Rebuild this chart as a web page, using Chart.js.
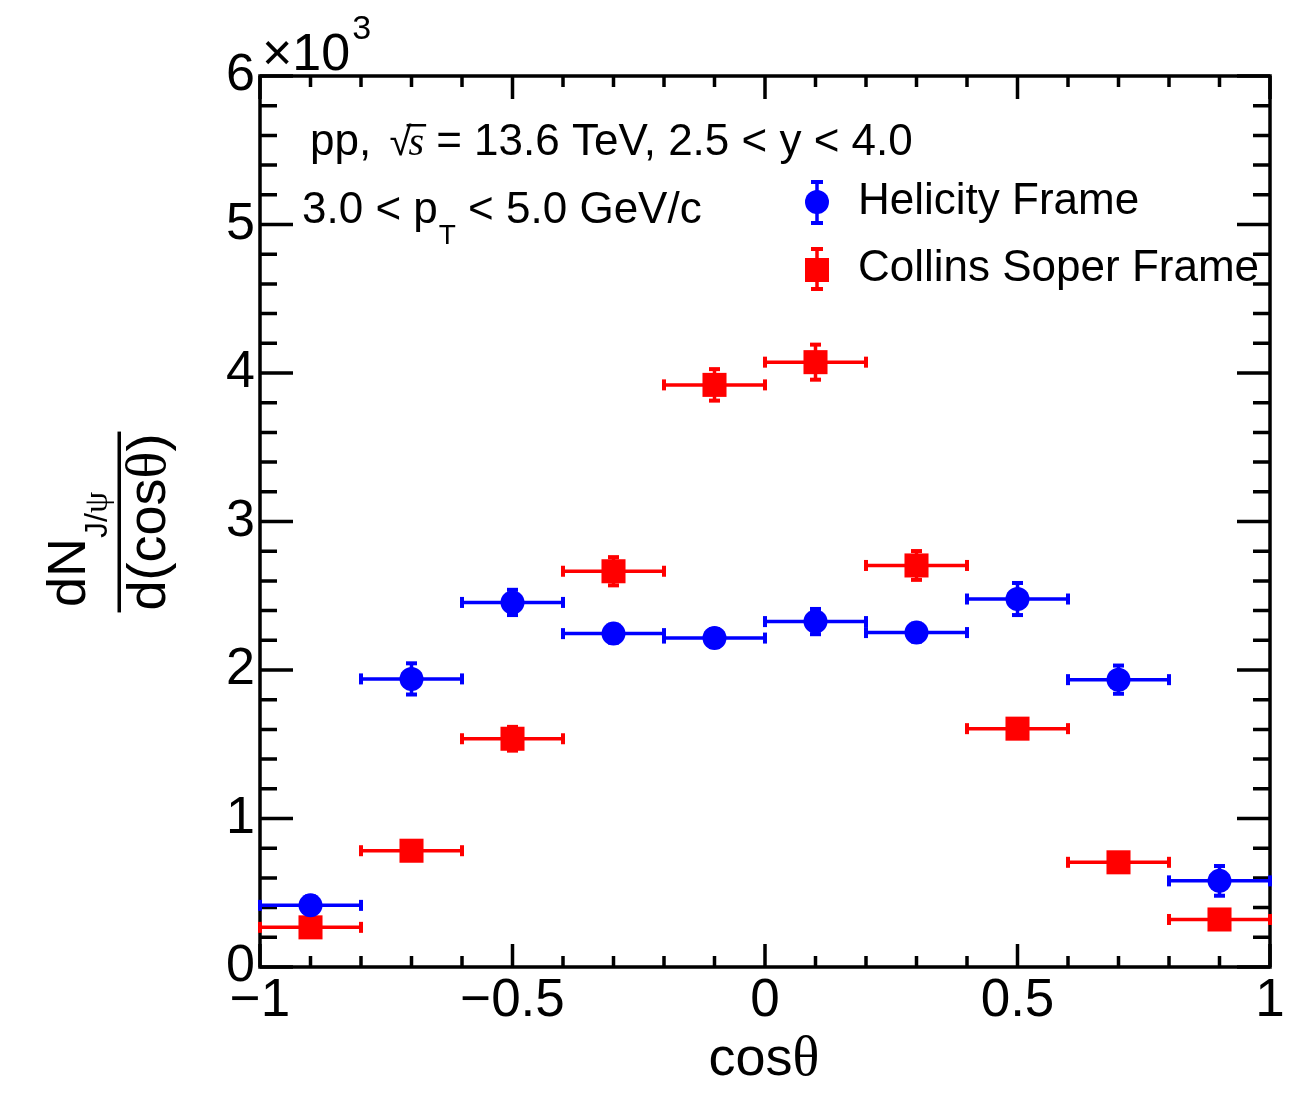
<!DOCTYPE html>
<html>
<head>
<meta charset="utf-8">
<script src="https://cdn.jsdelivr.net/npm/chart.js@4.4.1/dist/chart.umd.min.js"></script>
<style>
  html, body { margin: 0; padding: 0; background: #ffffff; }
  #wrap { width: 1301px; height: 1093px; }
</style>
</head>
<body>
<div id="wrap"><canvas id="chart" width="1301" height="1093"></canvas></div>
<script>
// cos(theta) bin centres and half widths
const cosTheta = [-0.9, -0.7, -0.5, -0.3, -0.1, 0.1, 0.3, 0.5, 0.7, 0.9];
const binHalfWidth = [0.1, 0.1, 0.1, 0.1, 0.1, 0.1, 0.1, 0.1, 0.1, 0.1];

// J/psi yields per unit cos(theta), helicity frame
const helicity = [415, 1940, 2455, 2245, 2215, 2326, 2252, 2478, 1935, 580];
const helicityErr = [60, 105, 85, 60, 60, 85, 60, 108, 95, 100];

// J/psi yields per unit cos(theta), Collins-Soper frame
const collinsSoper = [267, 783, 1537, 2665, 3920, 4073, 2704, 1605, 705, 320];
const collinsSoperErr = [50, 50, 80, 95, 106, 118, 97, 60, 50, 50];

// axis ticks
const xTicks = [-1, -0.5, 0, 0.5, 1];
const yTicks = [0, 1000, 2000, 3000, 4000, 5000, 6000];
const yTickLabels = ['0', '1', '2', '3', '4', '5', '6'];

const SANS = "'Liberation Sans', Arial, Helvetica, sans-serif";
const SERIF = "'Liberation Serif', 'Times New Roman', serif";
const BLUE = '#0000ff';
const RED = '#ff0000';

function fmtX(v) {
  if (v === 0) return '0';
  return (v < 0 ? '\u2212' : '') + String(Math.abs(v));
}

function points(ys, errs) {
  return cosTheta.map((x, i) => ({ x: x, y: ys[i], xerr: binHalfWidth[i], yerr: errs[i] }));
}

// draw a run of text pieces left to right; each piece: [text, font, dy, dx]
function drawRun(ctx, x, y, pieces) {
  let cx = x;
  for (const p of pieces) {
    ctx.font = p[1];
    cx += (p[3] || 0);
    ctx.fillText(p[0], cx, y + (p[2] || 0));
    cx += ctx.measureText(p[0]).width;
  }
  return cx;
}
function runWidth(ctx, pieces) {
  let w = 0;
  for (const p of pieces) { ctx.font = p[1]; w += ctx.measureText(p[0]).width + (p[3] || 0); }
  return w;
}

const framePlugin = {
  id: 'framePlugin',
  beforeDatasetsDraw(chart) {
    const { ctx, chartArea: a, scales } = chart;
    const xs = scales.x, ys = scales.y;
    ctx.save();
    ctx.strokeStyle = '#000';
    ctx.lineWidth = 3.5;
    ctx.strokeRect(a.left, a.top, a.right - a.left, a.bottom - a.top);

    // inward ticks on all four sides
    ctx.beginPath();
    for (let i = -10; i <= 10; i++) {
      const px = xs.getPixelForValue(i / 10);
      const len = (i % 5 === 0) ? 23 : 11;
      ctx.moveTo(px, a.bottom); ctx.lineTo(px, a.bottom - len);
      ctx.moveTo(px, a.top); ctx.lineTo(px, a.top + len);
    }
    for (let v = 0; v <= 6000; v += 200) {
      const py = ys.getPixelForValue(v);
      const len = (v % 1000 === 0) ? 33 : 17;
      ctx.moveTo(a.left, py); ctx.lineTo(a.left + len, py);
      ctx.moveTo(a.right, py); ctx.lineTo(a.right - len, py);
    }
    ctx.stroke();

    // error bars
    chart.data.datasets.forEach((ds) => {
      ctx.strokeStyle = ds.borderColor;
      ctx.fillStyle = ds.borderColor;
      ctx.lineWidth = 3.5;
      ds.data.forEach((p) => {
        const px = xs.getPixelForValue(p.x), py = ys.getPixelForValue(p.y);
        const x0 = xs.getPixelForValue(p.x - p.xerr), x1 = xs.getPixelForValue(p.x + p.xerr);
        const y0 = ys.getPixelForValue(p.y - p.yerr), y1 = ys.getPixelForValue(p.y + p.yerr);
        ctx.beginPath();
        ctx.moveTo(x0, py); ctx.lineTo(x1, py);
        ctx.moveTo(px, y0); ctx.lineTo(px, y1);
        ctx.stroke();
        ctx.fillRect(x0 - 2, py - 5.5, 4, 11);
        ctx.fillRect(x1 - 2, py - 5.5, 4, 11);
        ctx.fillRect(px - 5.5, y0 - 2, 11, 4);
        ctx.fillRect(px - 5.5, y1 - 2, 11, 4);
      });
    });
    ctx.restore();
  },
  afterDraw(chart) {
    const { ctx } = chart;
    ctx.save();
    ctx.fillStyle = '#000';
    ctx.textBaseline = 'alphabetic';
    ctx.textAlign = 'left';

    // axis multiplier
    drawRun(ctx, 262, 70, [['\u00d710', '52px ' + SANS], ['3', '34px ' + SANS, -31, 2]]);

    // collision system and kinematic range
    const f1 = '44px ' + SANS;
    let cx = drawRun(ctx, 310, 155, [['pp,  ', f1]]);
    ctx.font = '40px ' + SANS;
    ctx.fillText('\u221a', cx - 6, 155);
    const rw = ctx.measureText('\u221a').width;
    ctx.font = 'italic 40px ' + SERIF;
    const sx = cx - 6 + rw - 3;
    ctx.fillText('s', sx, 155);
    const sw = ctx.measureText('s').width;
    ctx.fillRect(sx - 2, 124, sw + 4, 2.5);
    drawRun(ctx, sx + sw + 12, 155, [['= 13.6 TeV, 2.5 < y < 4.0', f1]]);

    drawRun(ctx, 302, 223, [['3.0 < p', f1], ['T', '28px ' + SANS, 21, 1], [' < 5.0 GeV/c', f1]]);

    // legend
    ctx.strokeStyle = BLUE; ctx.fillStyle = BLUE; ctx.lineWidth = 3.5;
    ctx.beginPath(); ctx.moveTo(817, 182); ctx.lineTo(817, 223); ctx.stroke();
    ctx.fillRect(811, 180, 12, 4); ctx.fillRect(811, 221, 12, 4);
    ctx.beginPath(); ctx.arc(817, 202, 12, 0, Math.PI * 2); ctx.fill();
    ctx.strokeStyle = RED; ctx.fillStyle = RED;
    ctx.beginPath(); ctx.moveTo(817, 249); ctx.lineTo(817, 289); ctx.stroke();
    ctx.fillRect(811, 247, 12, 4); ctx.fillRect(811, 287, 12, 4);
    ctx.fillRect(805, 258, 24, 24);
    ctx.fillStyle = '#000';
    ctx.font = '44px ' + SANS;
    ctx.textBaseline = 'middle';
    ctx.fillText('Helicity Frame', 858, 202);
    ctx.fillText('Collins Soper Frame', 858, 269);
    ctx.textBaseline = 'alphabetic';

    // x axis title
    const tf = '54px ' + SANS, tg = '56px ' + SERIF;
    const xt = [['cos', tf], ['\u03b8', tg]];
    drawRun(ctx, 764 - runWidth(ctx, xt) / 2, 1075, xt);

    // y axis title: dN_{J/psi} / d(cos theta)
    ctx.save();
    ctx.translate(119, 522);
    ctx.rotate(-Math.PI / 2);
    const num = [['dN', tf], ['J/', '32px ' + SANS, 22], ['\u03c8', '34px ' + SERIF, 22]];
    drawRun(ctx, -85, -34, num);
    const den = [['d(cos', tf], ['\u03b8', tg], [')', tf]];
    const dw = runWidth(ctx, den);
    drawRun(ctx, -dw / 2, 46, den);
    ctx.fillRect(-dw / 2 - 2, -1.5, dw + 4, 3.5);
    ctx.restore();

    ctx.restore();
  }
};

new Chart(document.getElementById('chart').getContext('2d'), {
  type: 'scatter',
  data: {
    datasets: [
      {
        label: 'Helicity Frame',
        data: points(helicity, helicityErr),
        pointStyle: 'circle',
        pointRadius: 12,
        pointHoverRadius: 12,
        backgroundColor: BLUE,
        borderColor: BLUE,
        borderWidth: 0,
        clip: false
      },
      {
        label: 'Collins Soper Frame',
        data: points(collinsSoper, collinsSoperErr),
        pointStyle: 'rect',
        pointRadius: 17,
        pointHoverRadius: 17,
        backgroundColor: RED,
        borderColor: RED,
        borderWidth: 0,
        clip: false
      }
    ]
  },
  options: {
    responsive: false,
    animation: false,
    events: [],
    layout: { padding: { top: 76, right: 31, left: 0, bottom: 0 } },
    plugins: { legend: { display: false }, tooltip: { enabled: false } },
    scales: {
      x: {
        type: 'linear',
        min: -1, max: 1,
        afterBuildTicks: (s) => { s.ticks = xTicks.map((v) => ({ value: v })); },
        afterFit: (s) => { s.height = 126; },
        grid: { display: false, drawTicks: false },
        border: { display: false },
        ticks: {
          autoSkip: false, maxRotation: 0, padding: 3, color: '#000',
          font: { family: SANS, size: 53 },
          callback: (v) => fmtX(v)
        }
      },
      y: {
        type: 'linear',
        min: 0, max: 6000,
        afterBuildTicks: (s) => { s.ticks = yTicks.map((v) => ({ value: v })); },
        afterFit: (s) => { s.width = 260; },
        grid: { display: false, drawTicks: false },
        border: { display: false },
        ticks: {
          autoSkip: false, padding: 5, color: '#000',
          font: { family: SANS, size: 52 },
          callback: (v) => yTickLabels[yTicks.indexOf(v)]
        }
      }
    }
  },
  plugins: [framePlugin]
});
</script>
</body>
</html>
